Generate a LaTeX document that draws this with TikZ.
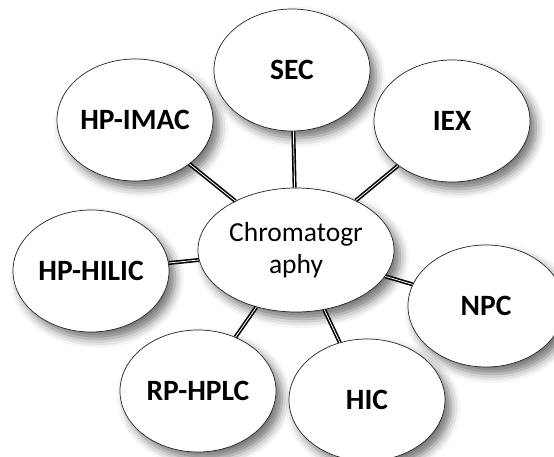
\documentclass[tikz,border=0pt]{standalone}
\usepackage{fontspec}
\setmainfont{Carlito}
\usetikzlibrary{shapes.geometric,shadows.blur}
\tikzset{
  bubble/.style={ellipse, draw=black!85, line width=0.7pt, fill=white,
    minimum width=156pt, minimum height=122pt, inner sep=0pt,
    font=\fontsize{29.5}{34}\selectfont\bfseries,
    blur shadow={shadow xshift=6pt, shadow yshift=-7pt, shadow blur radius=9pt, shadow opacity=55}},
  hub/.style={bubble, minimum width=196pt, minimum height=124pt, align=center,
    font=\fontsize{27.5}{32.4}\selectfont},
  conn/.style={draw=black, line width=1.6pt, double=white, double distance=0.8pt}
}
\begin{document}
\begin{tikzpicture}[x=1pt,y=-1pt]
\useasboundingbox (0,0) rectangle (554,457);
\node[hub] (c) at (296,250) {Chromatogr\\aphy};
\node[bubble] (sec) at (292,70) {SEC};
\node[bubble] (iex) at (452,121) {IEX};
\node[bubble] (imac) at (135,120) {HP-IMAC};
\node[bubble] (hilic) at (91,271) {HP-HILIC};
\node[bubble] (npc) at (486,306) {NPC};
\node[bubble] (rp) at (198,391) {RP-HPLC};
\node[bubble] (hic) at (367,400) {HIC};
\draw[conn] (c) -- (sec);
\draw[conn] (c) -- (iex);
\draw[conn] (c) -- (imac);
\draw[conn] (c) -- (hilic);
\draw[conn] (c) -- (npc);
\draw[conn] (c) -- (rp);
\draw[conn] (c) -- (hic);
\end{tikzpicture}
\end{document}
